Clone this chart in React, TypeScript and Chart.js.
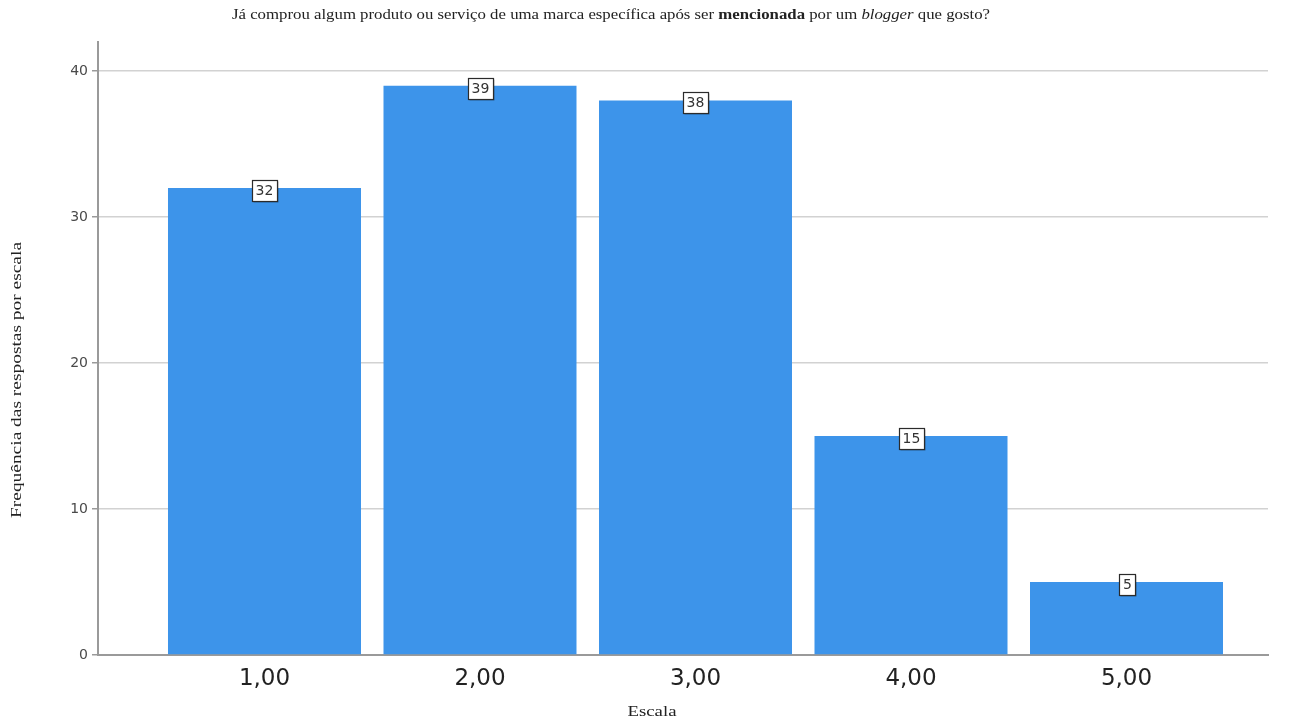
import React, { useEffect, useRef } from "react";
import { Chart, registerables } from "chart.js";

Chart.register(...registerables);

const categories = [1, 2, 3, 4, 5];
const xTickLabels = ["1,00", "2,00", "3,00", "4,00", "5,00"];
const frequencies = [32, 39, 38, 15, 5];
const yTickValues = [0, 10, 20, 30, 40];

const titleParts = [
  { text: "Já comprou algum produto ou serviço de uma marca específica após ser ", style: "" },
  { text: "mencionada", style: "bold " },
  { text: " por um ", style: "" },
  { text: "blogger", style: "italic " },
  { text: " que gosto?", style: "" },
];
const yTitle = "Frequência das respostas por escala";
const xTitle = "Escala";

const SERIF = '"Liberation Serif", "DejaVu Serif", serif';
const SANS = '"DejaVu Sans", "Noto Sans", sans-serif';

// draws rich text of a given font size, stretched horizontally to a target width, centered at (0,0)
function drawStretched(
  ctx: CanvasRenderingContext2D,
  parts: { text: string; style: string }[],
  size: number,
  target: number
) {
  let total = 0;
  const widths = parts.map((p) => {
    ctx.font = `${p.style}${size}px ${SERIF}`;
    const w = ctx.measureText(p.text).width;
    total += w;
    return w;
  });
  const k = target / total;
  ctx.save();
  ctx.scale(k, 1);
  let x = -total / 2;
  ctx.textAlign = "left";
  ctx.textBaseline = "middle";
  parts.forEach((p, i) => {
    ctx.font = `${p.style}${size}px ${SERIF}`;
    ctx.fillText(p.text, x, 0);
    x += widths[i];
  });
  ctx.restore();
}

const textPlugin = {
  id: "customText",
  afterDraw(chart: any) {
    const ctx = chart.ctx;
    ctx.save();
    ctx.fillStyle = "#222";
    ctx.save();
    ctx.translate(611, 15);
    drawStretched(ctx, titleParts, 14.5, 758);
    ctx.restore();
    ctx.save();
    ctx.translate(652, 712);
    drawStretched(ctx, [{ text: xTitle, style: "" }], 14.5, 49);
    ctx.restore();
    ctx.save();
    ctx.translate(17, 380);
    ctx.rotate(-Math.PI / 2);
    drawStretched(ctx, [{ text: yTitle, style: "" }], 14.5, 276);
    ctx.restore();
    ctx.restore();
  },
};

const labelPlugin = {
  id: "barLabels",
  afterDatasetsDraw(chart: any) {
    const ctx = chart.ctx;
    const meta = chart.getDatasetMeta(0);
    ctx.save();
    ctx.font = `14px ${SANS}`;
    ctx.textAlign = "center";
    ctx.textBaseline = "middle";
    meta.data.forEach((bar: any, i: number) => {
      const txt = String(frequencies[i]);
      const w = Math.round(ctx.measureText(txt).width + 7);
      const h = 21;
      const cx = Math.round(bar.x);
      const cy = Math.round(bar.y + 2);
      const left = Math.round(cx - w / 2);
      const top = Math.round(cy - h / 2);
      ctx.fillStyle = "rgba(0,0,0,0.3)";
      ctx.fillRect(left + 1.5, top + 1.5, w, h);
      ctx.fillStyle = "#ffffff";
      ctx.fillRect(left, top, w, h);
      ctx.strokeStyle = "#2b2b2b";
      ctx.lineWidth = 1.2;
      ctx.strokeRect(left + 0.5, top + 0.5, w, h);
      ctx.fillStyle = "#333";
      ctx.fillText(txt, cx + 0.5, cy + 1.5);
    });
    ctx.restore();
  },
};

export default function App() {
  const ref = useRef<HTMLCanvasElement>(null);
  useEffect(() => {
    document.body.style.margin = "0";
    const chart = new Chart(ref.current as HTMLCanvasElement, {
      type: "bar",
      data: {
        datasets: [
          {
            data: categories.map((c, i) => ({ x: c, y: frequencies[i] })),
            backgroundColor: "#3d94ea",
            borderWidth: 0,
            barPercentage: 0.8956,
            categoryPercentage: 1,
          },
        ],
      },
      options: {
        animation: false,
        responsive: false,
        layout: { padding: { top: 42, right: 29, left: 0, bottom: 0 } },
        plugins: { legend: { display: false }, tooltip: { enabled: false }, title: { display: false } },
        scales: {
          x: {
            type: "linear",
            offset: false,
            min: 0.2274,
            max: 5.6566,
            afterBuildTicks: (s: any) => {
              s.ticks = categories.map((v) => ({ value: v }));
            },
            afterFit: (s: any) => {
              s.height = 67;
            },
            ticks: {
              callback: (v: any) => xTickLabels[categories.indexOf(Number(v))] ?? "",
              font: { family: SANS, size: 23 },
              color: "#222",
              padding: 10,
              maxRotation: 0,
              autoSkip: false,
            },
            grid: { display: false, drawTicks: false, offset: false },
            border: { display: true, color: "#9a9a9a", width: 2 },
          },
          y: {
            min: 0,
            max: 42,
            afterBuildTicks: (s: any) => {
              s.ticks = yTickValues.map((v) => ({ value: v }));
            },
            afterFit: (s: any) => {
              s.width = 98;
            },
            ticks: {
              font: { family: SANS, size: 14 },
              color: "#4a4a4a",
              padding: 4,
            },
            grid: {
              color: "#d2d2d2",
              lineWidth: 1.5,
              tickLength: 6,
              tickColor: "#9a9a9a",
            },
            border: { display: true, color: "#9a9a9a", width: 2 },
          },
        },
      },
      plugins: [labelPlugin, textPlugin],
    } as any);
    return () => chart.destroy();
  }, []);
  return (
    <div style={{ width: 1297, height: 722, background: "#fff" }}>
      <canvas ref={ref} width={1297} height={722} />
    </div>
  );
}
